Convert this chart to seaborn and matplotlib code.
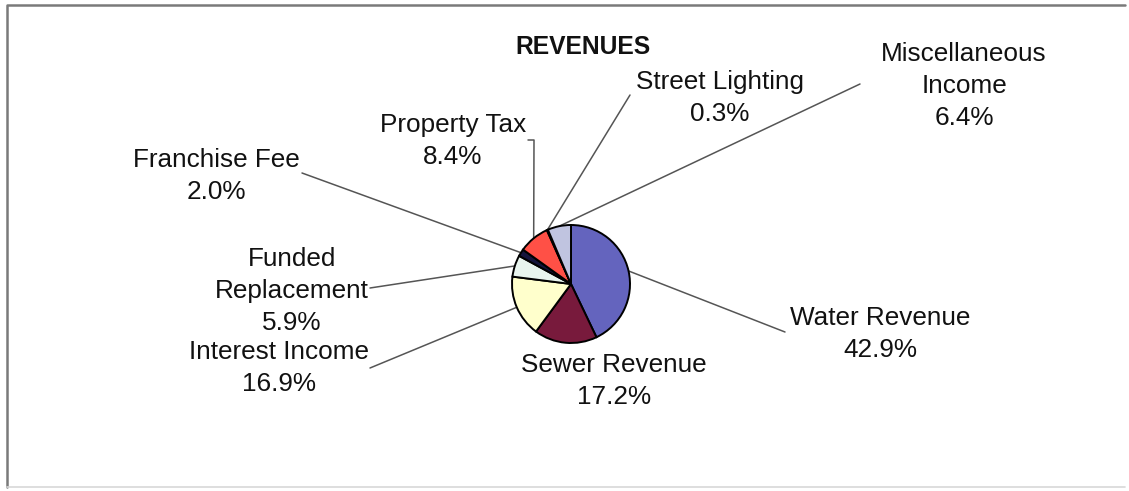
import numpy as np
import seaborn as sns
import matplotlib.pyplot as plt

categorias = ["Water Revenue", "Sewer Revenue", "Interest Income", "Funded\nReplacement",
              "Franchise Fee", "Property Tax", "Street Lighting", "Miscellaneous\nIncome"]
porcentajes = [42.9, 17.2, 16.9, 5.9, 2.0, 8.4, 0.3, 6.4]
colores = ["#6464BE", "#781A3C", "#FFFFCC", "#E8F4EE", "#14143C", "#FF5046", "#333399", "#C0C4E0"]

# posiciones de las etiquetas (pixeles, y hacia arriba) y fin de la linea guia
pos_texto = [(880, 157), (614, 110), (279, 123), (292, 200), (216, 315), (453, 350), (720, 393), (964, 405)]
fin_guia = [(785, 159), None, (370, 123), (370, 203), (302, 318), (534, 351), (630, 396), (860, 407)]

sns.set_theme(style="white")
plt.rcParams['font.family'] = ['Liberation Sans', 'DejaVu Sans']

W, H = 1129, 491
fig = plt.figure(figsize=(W / 100, H / 100), dpi=100)
ax = fig.add_axes([0, 0, 1, 1])

cx, cy, r = 571, H - 284, 59
wedges, _ = ax.pie(porcentajes, colors=sns.color_palette(colores), startangle=90, counterclock=False,
                   center=(cx, cy), radius=r, wedgeprops=dict(edgecolor="black", linewidth=1.4))

for w, cat, p, (tx, ty), fin in zip(wedges, categorias, porcentajes, pos_texto, fin_guia):
    ax.text(tx, ty, f"{cat}\n{p:.1f}%", ha="center", va="center", fontsize=18.8,
            linespacing=1.4, color="#111111")
    if fin is not None:
        ang = np.deg2rad((w.theta1 + w.theta2) / 2)
        x0, y0 = cx + r * np.cos(ang), cy + r * np.sin(ang)
        xs, ys = [x0, fin[0]], [y0, fin[1]]
        if cat == "Property Tax":
            xs.append(fin[0] - 6)
            ys.append(fin[1])
        ax.plot(xs, ys, color="#555555", lw=1.1, zorder=0)

ax.text(583, H - 47, "REVENUES", ha="center", va="center", fontsize=17.7, fontweight="bold", color="#111111")

# marco
ax.plot([7, 7, 1125], [H - 487, H - 5, H - 5], color="#7a7a7a", lw=1.8)
ax.plot([7, 1125], [H - 487, H - 487], color="#d8d8d8", lw=1.2)

ax.set_xlim(0, W)
ax.set_ylim(0, H)
ax.set_aspect("equal")
ax.axis("off")

fig.savefig("out.png", dpi=100)
